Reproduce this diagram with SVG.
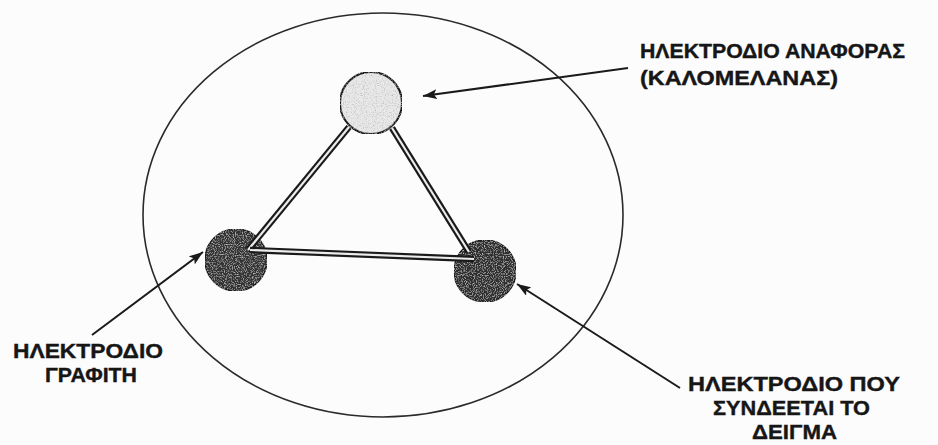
<svg xmlns="http://www.w3.org/2000/svg" width="938" height="445" viewBox="0 0 938 445">
  <style>
    .lbl { font-family: "Liberation Sans", Arial, sans-serif; font-weight: bold; font-size: 21px; fill: #161616; stroke: #161616; stroke-width: 0.4; }
    .arrow { stroke: #1a1a1a; stroke-width: 2; fill: none; marker-end: url(#head); }
    .rod-out { stroke: #1a1a1a; stroke-width: 6.5; stroke-linecap: butt; }
    .rod-in { stroke: #ececec; stroke-width: 2.2; stroke-linecap: butt; }
    .vessel { fill: none; stroke: #2a2a2a; stroke-width: 1.6; }
  </style>
  <defs>
    <marker id="head" viewBox="0 0 14 10" refX="14" refY="5" markerWidth="14" markerHeight="10" markerUnits="userSpaceOnUse" orient="auto">
      <path d="M0,0 L14,5 L0,10 L3,5 Z" fill="#1a1a1a"/>
    </marker>
    <filter id="stipple-dark" x="0" y="0" width="100%" height="100%">
      <feTurbulence type="fractalNoise" baseFrequency="0.9" numOctaves="2" seed="3" result="n"/>
      <feColorMatrix in="n" type="matrix" values="0 0 0 0 0.55  0 0 0 0 0.55  0 0 0 0 0.55  0 0 0 -2.4 1.25" result="dots"/>
      <feComposite in="dots" in2="SourceGraphic" operator="in" result="clip"/>
      <feMerge><feMergeNode in="SourceGraphic"/><feMergeNode in="clip"/></feMerge>
    </filter>
    <filter id="stipple-light" x="0" y="0" width="100%" height="100%">
      <feTurbulence type="fractalNoise" baseFrequency="0.9" numOctaves="2" seed="7" result="n"/>
      <feColorMatrix in="n" type="matrix" values="0 0 0 0 0.45  0 0 0 0 0.45  0 0 0 0 0.45  0 0 0 -2.4 1.2" result="dots"/>
      <feComposite in="dots" in2="SourceGraphic" operator="in" result="clip"/>
      <feMerge><feMergeNode in="SourceGraphic"/><feMergeNode in="clip"/></feMerge>
    </filter>
  </defs>
  <rect width="938" height="445" fill="#fcfcfc"/>

  <g id="vessel">
    <ellipse class="vessel" cx="383" cy="215" rx="240" ry="202"/>
  </g>

  <g id="electrode-graphite">
    <circle cx="236" cy="260" r="31" fill="#333333" stroke="#1a1a1a" stroke-width="1.5" filter="url(#stipple-dark)"/>
  </g>
  <g id="electrode-sample">
    <circle cx="485" cy="271" r="31" fill="#2e2e2e" stroke="#1a1a1a" stroke-width="1.5" filter="url(#stipple-dark)"/>
  </g>

  <g id="rods">
    <line class="rod-out" x1="349" y1="127" x2="248" y2="250"/>
    <line class="rod-in" x1="349" y1="127" x2="248" y2="250"/>
    <line class="rod-out" x1="392" y1="128" x2="469" y2="252"/>
    <line class="rod-in" x1="392" y1="128" x2="469" y2="252"/>
    <line class="rod-out" x1="250" y1="250" x2="474" y2="259"/>
    <line class="rod-in" x1="250" y1="250" x2="474" y2="259"/>
  </g>

  <g id="electrode-reference">
    <circle cx="371" cy="103" r="31" fill="#e8e8e8" stroke="#1a1a1a" stroke-width="2" filter="url(#stipple-light)"/>
  </g>

  <g id="connectors">
    <path class="arrow" d="M628,68 L423,96"/>
    <path class="arrow" d="M92,335 L203,252"/>
    <path class="arrow" d="M680,388 L517,284"/>
  </g>

  <g id="label-reference">
    <text class="lbl" x="640" y="58" textLength="265" lengthAdjust="spacingAndGlyphs">ΗΛΕΚΤΡΟΔΙΟ ΑΝΑΦΟΡΑΣ</text>
    <text class="lbl" x="640" y="85" textLength="198" lengthAdjust="spacingAndGlyphs">(ΚΑΛΟΜΕΛΑΝΑΣ)</text>
  </g>
  <g id="label-graphite">
    <text class="lbl" x="13" y="358" textLength="150" lengthAdjust="spacingAndGlyphs">ΗΛΕΚΤΡΟΔΙΟ</text>
    <text class="lbl" x="45" y="382" textLength="92" lengthAdjust="spacingAndGlyphs">ΓΡΑΦΙΤΗ</text>
  </g>
  <g id="label-sample">
    <text class="lbl" x="688" y="391" textLength="212" lengthAdjust="spacingAndGlyphs">ΗΛΕΚΤΡΟΔΙΟ ΠΟΥ</text>
    <text class="lbl" x="713" y="415" textLength="157" lengthAdjust="spacingAndGlyphs">ΣΥΝΔΕΕΤΑΙ ΤΟ</text>
    <text class="lbl" x="752" y="439" textLength="85" lengthAdjust="spacingAndGlyphs">ΔΕΙΓΜΑ</text>
  </g>
</svg>
